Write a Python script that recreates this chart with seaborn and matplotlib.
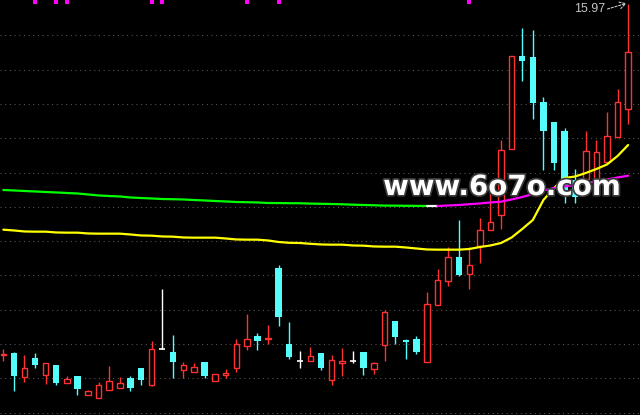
import numpy as np
import pandas as pd
import matplotlib
matplotlib.use("Agg")
import matplotlib.pyplot as plt
import matplotlib.patheffects as pe
import seaborn as sns

# ---- data (daily K-line) ----
opens = [10.71, 10.735, 10.375, 10.66, 10.405, 10.555, 10.285, 10.39, 10.105, 10.06,
         10.18, 10.21, 10.36, 10.51, 10.255, 10.795, 10.75, 10.48, 10.45, 10.60,
         10.315, 10.405, 10.51, 10.84, 10.99, 10.95, 12.01, 10.87, 10.615, 10.615,
         10.735, 10.33, 10.585, 10.615, 10.75, 10.495, 10.855, 11.215, 10.93, 10.945,
         10.60, 11.455, 11.815, 12.175, 11.92, 12.34, 12.58, 12.805, 13.795, 15.19,
         15.175, 14.50, 14.20, 14.065, 13.33, 13.345, 13.345, 13.60, 13.975, 14.395]
highs = [10.795, 10.75, 10.705, 10.735, 10.585, 10.555, 10.39, 10.39, 10.18, 10.30,
         10.54, 10.375, 10.39, 10.51, 10.915, 11.695, 11.005, 10.60, 10.585, 10.60,
         10.42, 10.495, 10.945, 11.32, 11.035, 11.155, 12.055, 11.20, 10.765, 10.825,
         10.735, 10.705, 10.81, 10.765, 10.75, 10.60, 11.38, 11.215, 10.945, 10.99,
         11.65, 11.995, 12.325, 12.73, 12.325, 12.76, 13.135, 13.93, 15.19, 15.61,
         15.58, 14.575, 14.20, 14.11, 13.495, 14.065, 13.93, 14.35, 14.695, 15.97]
lows = [10.615, 10.165, 10.30, 10.51, 10.27, 10.255, 10.285, 10.105, 10.105, 10.06,
        10.18, 10.21, 10.165, 10.255, 10.24, 10.795, 10.36, 10.36, 10.45, 10.36,
        10.315, 10.36, 10.45, 10.78, 10.78, 10.87, 11.14, 10.645, 10.51, 10.615,
        10.48, 10.255, 10.39, 10.585, 10.405, 10.42, 10.615, 10.87, 10.645, 10.72,
        10.60, 11.455, 11.74, 11.89, 11.695, 12.085, 12.58, 12.595, 13.795, 14.815,
        14.245, 13.48, 13.48, 12.985, 12.985, 13.345, 13.30, 13.60, 13.975, 14.17]
closes = [10.72, 10.39, 10.51, 10.555, 10.585, 10.285, 10.345, 10.195, 10.165, 10.255,
          10.315, 10.285, 10.21, 10.33, 10.795, 10.795, 10.60, 10.555, 10.525, 10.39,
          10.42, 10.435, 10.87, 10.945, 10.915, 10.96, 11.275, 10.675, 10.615, 10.69,
          10.51, 10.63, 10.615, 10.615, 10.51, 10.585, 11.35, 10.975, 10.90, 10.75,
          11.47, 11.83, 12.175, 11.905, 12.055, 12.58, 12.70, 13.78, 15.19, 15.115,
          14.485, 14.065, 13.585, 13.12, 13.075, 13.765, 13.75, 13.99, 14.50, 15.25]
ma_short = [12.585, 12.573, 12.558, 12.555, 12.555, 12.543, 12.540, 12.540, 12.528, 12.525,
            12.525, 12.525, 12.513, 12.498, 12.495, 12.483, 12.480, 12.468, 12.465, 12.465,
            12.465, 12.453, 12.438, 12.435, 12.435, 12.423, 12.400, 12.388, 12.385, 12.373,
            12.363, 12.360, 12.360, 12.348, 12.345, 12.333, 12.330, 12.330, 12.318, 12.303,
            12.288, 12.285, 12.285, 12.285, 12.295, 12.325, 12.348, 12.385, 12.468, 12.595,
            12.730, 13.030, 13.210, 13.360, 13.383, 13.435, 13.495, 13.563, 13.690, 13.855]
ma_long = [13.180, 13.173, 13.165, 13.158, 13.150, 13.143, 13.135, 13.128, 13.113, 13.098,
           13.090, 13.083, 13.068, 13.060, 13.053, 13.045, 13.042, 13.038, 13.030, 13.023,
           13.015, 13.008, 13.000, 12.997, 12.993, 12.985, 12.984, 12.982, 12.981, 12.976,
           12.973, 12.970, 12.966, 12.960, 12.955, 12.951, 12.946, 12.945, 12.943, 12.942,
           12.940, 12.940, 12.948, 12.955, 12.967, 12.978, 12.993, 13.005, 13.038, 13.075,
           13.120, 13.173, 13.210, 13.233, 13.255, 13.285, 13.308, 13.338, 13.368, 13.395]
signal_idx = [3, 5, 6, 14, 15, 23, 26, 44]
watermark = "www.6o7o.com"

RED = "#FF3232"
CYAN = "#54FCFC"
WHITE = "#FFFFFF"

sns.set_theme(style="dark", rc={"axes.facecolor": "black", "figure.facecolor": "black"})
plt.rcParams["font.family"] = ["DejaVu Sans"]

fig = plt.figure(figsize=(6.4, 4.15), dpi=100)
ax = fig.add_axes([0, 0, 1, 1])
ax.set_facecolor("black")

n = len(opens)
df = pd.DataFrame({"x": np.arange(n), "open": opens, "high": highs, "low": lows,
                   "close": closes, "ma_s": ma_short, "ma_l": ma_long})

W = 0.6
for i, r in df.iterrows():
    o, h, l, c = r["open"], r["high"], r["low"], r["close"]
    if c > o:
        ax.vlines(i, c, h, color=RED, lw=1.0, zorder=2)
        ax.vlines(i, l, o, color=RED, lw=1.0, zorder=2)
        ax.bar(i, c - o, bottom=o, width=W - 0.08, facecolor="black", edgecolor=RED,
               linewidth=1.0, zorder=3)
    elif c < o:
        ax.vlines(i, l, h, color=CYAN, lw=1.0, zorder=2)
        ax.bar(i, o - c, bottom=c, width=W, color=CYAN, linewidth=0, zorder=3)
    else:
        ax.vlines(i, l, h, color=WHITE, lw=1.0, zorder=2)
        ax.hlines(o, i - W / 2, i + W / 2, color=WHITE, lw=1.2, zorder=3)

# short moving average (yellow)
sns.lineplot(data=df, x="x", y="ma_s", color="#FFFF00", lw=1.6, ax=ax,
             estimator=None, zorder=4, legend=False)

# long moving average coloured by slope
d = np.diff(df["ma_l"].values)
seg_col = np.where(d < -1e-9, "#00FF00", np.where(d > 1e-9, "#FF00FF", "#FFFFFF"))
start = 0
for k in range(1, len(seg_col) + 1):
    if k == len(seg_col) or seg_col[k] != seg_col[start]:
        sub = df.iloc[start:k + 1]
        sns.lineplot(data=sub, x="x", y="ma_l", color=seg_col[start], lw=1.6, ax=ax,
                     estimator=None, zorder=4, legend=False)
        start = k

# signal markers at the top
ytop = 16.03
sns.scatterplot(x=signal_idx, y=[ytop - 0.03] * len(signal_idx), marker="s", s=5,
                color="#FF00FF", linewidth=0, ax=ax, zorder=5, legend=False)

# max price label
imax = int(np.argmax(highs))
hmax = highs[imax]
ax.text(imax - 5.1, hmax + 0.015, f"{hmax:.2f}", ha="left", va="top", fontsize=8.9,
        family="Liberation Sans", color="#C8C8C8", zorder=6)
ax.annotate("", xy=(imax - 0.15, hmax + 0.01), xytext=(imax - 1.95, hmax - 0.075),
            arrowprops=dict(arrowstyle="->,head_length=0.35,head_width=0.2",
                            color="#C8C8C8", lw=0.8, linestyle=(0, (2, 1.5)),
                            shrinkA=0, shrinkB=0), zorder=6)

# watermark
ax.text(47.1, 13.105, watermark, ha="center", va="baseline", fontsize=20,
        fontweight="bold", color="white", family="DejaVu Sans", zorder=7,
        path_effects=[pe.withStroke(linewidth=2.5, foreground="#3a3a3a")])

# grid
ax.set_yticks(np.arange(15.5005, 9.8, -0.5145))
ax.yaxis.grid(True, color="#5a5a5a", linestyle=(0, (1, 3.5)), lw=0.75)
ax.xaxis.grid(False)
ax.set_axisbelow(True)
ax.tick_params(length=0, labelleft=False, labelbottom=False)
for s in ax.spines.values():
    s.set_visible(False)
ax.set_xlabel("")
ax.set_ylabel("")
ax.set_xlim(-0.312, 60.12)
ax.set_ylim(16.03 - 0.015 * 415, 16.03)

fig.savefig("out.png", dpi=100, facecolor="black")
